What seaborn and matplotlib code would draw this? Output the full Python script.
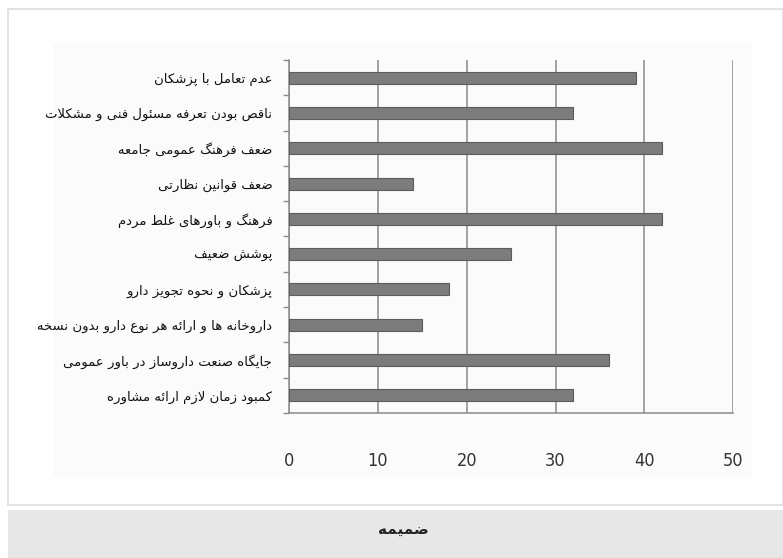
import matplotlib
matplotlib.use("Agg")
import matplotlib.pyplot as plt
import matplotlib.patches as mpatches
from matplotlib.ticker import FixedLocator
import seaborn as sns

# داده‌ها (از بالا به پایین)
labels = [
    "عدم تعامل با پزشکان",
    "ناقص بودن تعرفه مسئول فنی و مشکلات",
    "ضعف فرهنگ عمومی جامعه",
    "ضعف قوانین نظارتی",
    "فرهنگ و باورهای غلط مردم",
    "پوشش ضعیف",
    "پزشکان و نحوه تجویز دارو",
    "داروخانه ها و ارائه هر نوع دارو بدون نسخه",
    "جایگاه صنعت داروساز در باور عمومی",
    "کمبود زمان لازم ارائه مشاوره",
]
values = [39, 32, 42, 14, 42, 25, 18, 15, 36, 32]
x_ticks = [0, 10, 20, 30, 40, 50]
caption = "ضمیمه"

# شکل‌های حروف عربی/فارسی (جدا، پایانی، آغازی، میانی)
FORMS = {
    'ا': ('\uFE8D', '\uFE8E'),
    'د': ('\uFEA9', '\uFEAA'),
    'ذ': ('\uFEAB', '\uFEAC'),
    'ر': ('\uFEAD', '\uFEAE'),
    'ز': ('\uFEAF', '\uFEB0'),
    'ژ': ('\uFB8A', '\uFB8B'),
    'و': ('\uFEED', '\uFEEE'),
    'ب': ('\uFE8F', '\uFE90', '\uFE91', '\uFE92'),
    'پ': ('\uFB56', '\uFB57', '\uFB58', '\uFB59'),
    'ت': ('\uFE95', '\uFE96', '\uFE97', '\uFE98'),
    'ث': ('\uFE99', '\uFE9A', '\uFE9B', '\uFE9C'),
    'ج': ('\uFE9D', '\uFE9E', '\uFE9F', '\uFEA0'),
    'چ': ('\uFB7A', '\uFB7B', '\uFB7C', '\uFB7D'),
    'ح': ('\uFEA1', '\uFEA2', '\uFEA3', '\uFEA4'),
    'خ': ('\uFEA5', '\uFEA6', '\uFEA7', '\uFEA8'),
    'س': ('\uFEB1', '\uFEB2', '\uFEB3', '\uFEB4'),
    'ش': ('\uFEB5', '\uFEB6', '\uFEB7', '\uFEB8'),
    'ص': ('\uFEB9', '\uFEBA', '\uFEBB', '\uFEBC'),
    'ض': ('\uFEBD', '\uFEBE', '\uFEBF', '\uFEC0'),
    'ط': ('\uFEC1', '\uFEC2', '\uFEC3', '\uFEC4'),
    'ظ': ('\uFEC5', '\uFEC6', '\uFEC7', '\uFEC8'),
    'ع': ('\uFEC9', '\uFECA', '\uFECB', '\uFECC'),
    'غ': ('\uFECD', '\uFECE', '\uFECF', '\uFED0'),
    'ف': ('\uFED1', '\uFED2', '\uFED3', '\uFED4'),
    'ق': ('\uFED5', '\uFED6', '\uFED7', '\uFED8'),
    'ک': ('\uFB8E', '\uFB8F', '\uFB90', '\uFB91'),
    'گ': ('\uFB92', '\uFB93', '\uFB94', '\uFB95'),
    'ل': ('\uFEDD', '\uFEDE', '\uFEDF', '\uFEE0'),
    'م': ('\uFEE1', '\uFEE2', '\uFEE3', '\uFEE4'),
    'ن': ('\uFEE5', '\uFEE6', '\uFEE7', '\uFEE8'),
    'ه': ('\uFEE9', '\uFEEA', '\uFEEB', '\uFEEC'),
    'ی': ('\uFBFC', '\uFBFD', '\uFBFE', '\uFBFF'),
    'ئ': ('\uFE89', '\uFE8A', '\uFE8B', '\uFE8C'),
}


def shape_fa(text):
    """اتصال حروف و برگرداندن ترتیب برای نمایش در matplotlib"""
    out = []
    i = 0
    n = len(text)
    while i < n:
        ch = text[i]
        prev = text[i - 1] if i > 0 else ''
        prev_joins = prev in FORMS and len(FORMS[prev]) == 4
        if ch == 'ل' and i + 1 < n and text[i + 1] == 'ا':
            out.append('\uFEFC' if prev_joins else '\uFEFB')
            i += 2
            continue
        if ch in FORMS:
            forms = FORMS[ch]
            nxt = text[i + 1] if i + 1 < n else ''
            next_joins = nxt in FORMS and len(forms) == 4
            if prev_joins and next_joins:
                out.append(forms[3])
            elif prev_joins:
                out.append(forms[1])
            elif next_joins:
                out.append(forms[2])
            else:
                out.append(forms[0])
        else:
            out.append(ch)
        i += 1
    return ''.join(reversed(out))


sns.set_style("white")
plt.rcParams['font.family'] = ['DejaVu Sans']

fig = plt.figure(figsize=(7.83, 5.58), dpi=100)

# قاب‌ها و نوار پایین
fig.patches.append(mpatches.Rectangle((8 / 783, 1 - 505 / 558), 775 / 783, 496 / 558,
                                      transform=fig.transFigure, facecolor='white',
                                      edgecolor='#e2e2e2', lw=1.5, zorder=-2))
fig.patches.append(mpatches.Rectangle((53 / 783, 1 - 477 / 558), 699 / 783, 434 / 558,
                                      transform=fig.transFigure, facecolor='#fbfbfb',
                                      edgecolor='none', zorder=-1))
fig.patches.append(mpatches.Rectangle((8 / 783, 0), 775 / 783, 48 / 558,
                                      transform=fig.transFigure, facecolor='#e6e7e6',
                                      edgecolor='none', zorder=-2))

ax = fig.add_axes([289 / 783, 145 / 558, 444.3 / 783, 353 / 558])
ax.set_zorder(2)
ax.set_facecolor('none')

shaped = [shape_fa(s) for s in labels]
sns.barplot(x=values, y=shaped, orient='h', color='#7c7c7c', edgecolor='#5c5c5c',
            linewidth=0.8, width=0.34, saturation=1, ax=ax, zorder=3)

ax.set_xlim(0, 50)
ax.set_ylim(9.5, -0.5)
ax.set_xticks(x_ticks)
ax.set_xticklabels([str(t) for t in x_ticks],
                   family=['DejaVu Sans Condensed', 'Liberation Sans Narrow', 'DejaVu Sans'],
                   fontstretch='condensed', fontsize=13, color='#333333')
ax.xaxis.grid(True, color='#8a8a8a', lw=1.1, zorder=1)
ax.set_axisbelow(True)
ax.tick_params(axis='x', length=8, width=1, color='#8a8a8a', direction='out', pad=20)

ax.set_yticks(range(len(labels)))
ax.set_yticklabels(shaped, fontsize=9.5, color='#111111')
ax.yaxis.set_minor_locator(FixedLocator([i - 0.5 for i in range(len(labels) + 1)]))
ax.tick_params(axis='y', which='major', length=0, pad=12)
ax.tick_params(axis='y', which='minor', length=4, width=1, color='#8a8a8a', left=True)

for side in ['top', 'right']:
    ax.spines[side].set_visible(False)
for side in ['left', 'bottom']:
    ax.spines[side].set_color('#8a8a8a')
    ax.spines[side].set_linewidth(1.1)

ax.set_xlabel('')
ax.set_ylabel('')

fig.text(403 / 783, 1 - 530 / 558, shape_fa(caption), ha='center', va='center',
         fontsize=11, fontweight='bold', color='#222222')

fig.savefig('out.png', dpi=100)
